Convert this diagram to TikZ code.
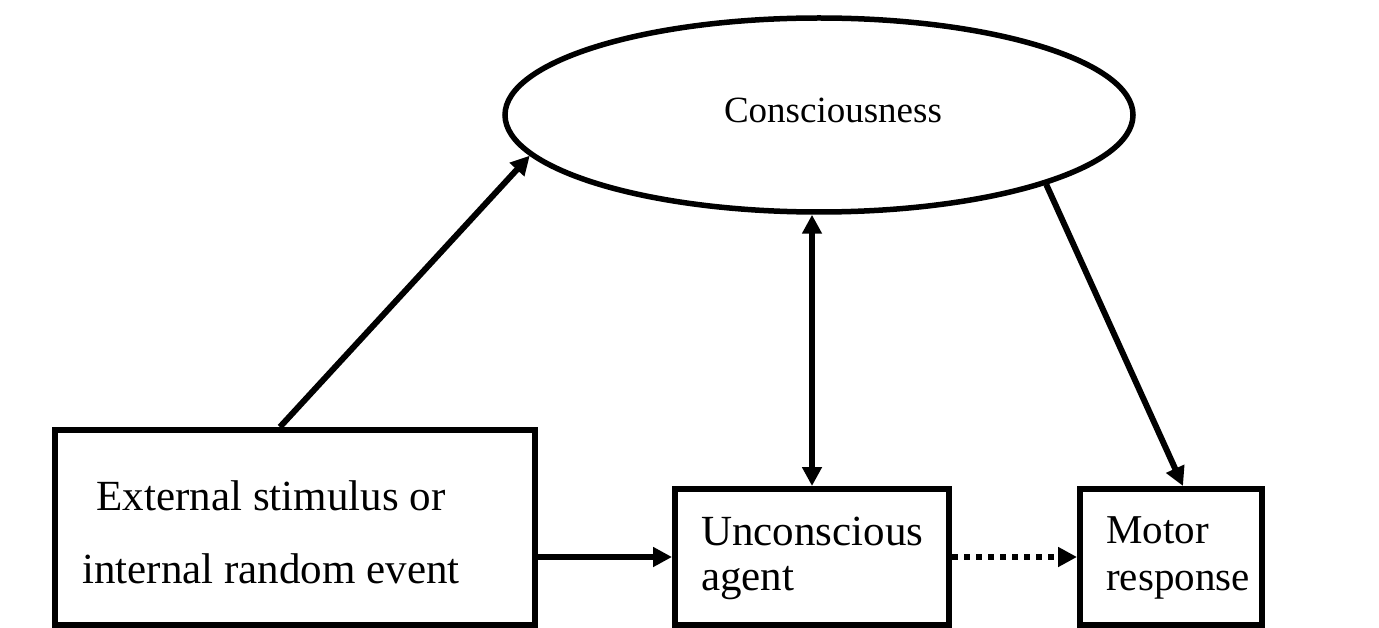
\documentclass[tikz,border=0pt]{standalone}
\usepackage{fontspec}
\setmainfont{Liberation Serif}
\usetikzlibrary{arrows.meta,shapes.geometric,calc}
\begin{document}
\begin{tikzpicture}[x=1pt,y=-1pt,
  boxnode/.style={draw, line width=6pt, rectangle, inner sep=0pt},
  ellnode/.style={draw, line width=5.5pt, ellipse, inner sep=0pt, minimum width=628pt, minimum height=194pt},
  lbl/.style={inner sep=0pt, font=\fontsize{43}{72}\selectfont},
  mlbl/.style={inner sep=0pt, font=\fontsize{41}{48}\selectfont},
  clbl/.style={inner sep=0pt, font=\fontsize{37}{44}\selectfont},
  arr/.style={line width=6pt, -{Triangle[length=19pt,width=19pt]}},
  darr/.style={line width=6pt, {Triangle[length=19pt,width=19pt]}-{Triangle[length=19pt,width=19pt]}},
  dotarr/.style={line width=6pt, dash pattern=on 6pt off 6pt, -{Triangle[length=19pt,width=19pt]}}
]
\useasboundingbox (0,0) rectangle (1379,628);
\fill[white] (0,0) rectangle (1379,628);

\node[ellnode] (cons) at (819,115) {};
\node[clbl, anchor=base] (constext) at (833,123) {Consciousness};

\node[boxnode, minimum width=480pt, minimum height=195pt] (ext) at (295,527.5) {};
\node[lbl, anchor=base] (ext1) at (271,510) {External stimulus or};
\node[lbl, anchor=base] (ext2) at (271,583) {internal random event};

\node[boxnode, minimum width=274pt, minimum height=136pt] (unc) at (812,557) {};
\node[lbl, anchor=base west] (unc1) at (701,545) {Unconscious};
\node[lbl, anchor=base west] (unc2) at (701,590) {agent};

\node[boxnode, minimum width=182pt, minimum height=136pt] (mot) at (1171,557) {};
\node[mlbl, anchor=base west] (mot1) at (1106,543) {Motor};
\node[mlbl, anchor=base west] (mot2) at (1106,590) {response};

\draw[arr] ($(ext.north west)!0.469!(ext.north east)$) -- (cons.188);
\draw[darr] (unc.north) -- (unc.north |- cons.south);
\draw[arr] (cons.-17) -- (mot.north -| 1183,0);
\draw[arr] (unc.west -| ext.east) -- (unc.west);
\draw[dotarr] (unc.east) -- (mot.west);
\end{tikzpicture}
\end{document}
